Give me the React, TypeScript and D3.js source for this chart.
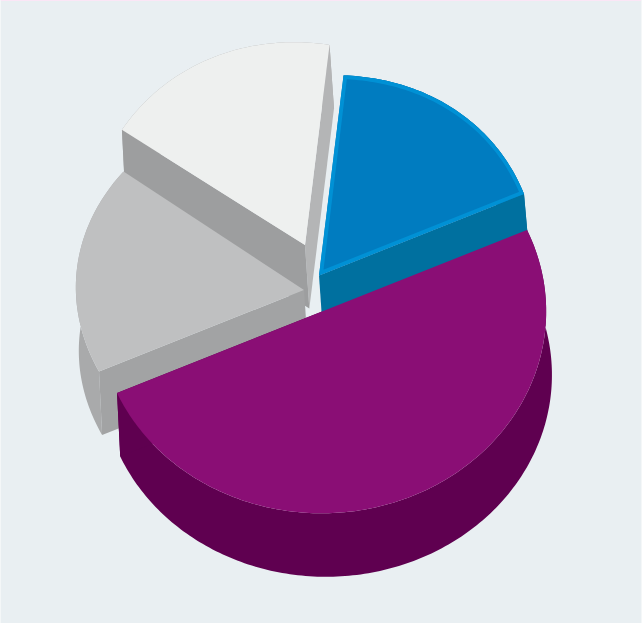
import React from "react";
import * as d3 from "d3";

const categories = ["Blue", "White", "Grey", "Purple"];
const values = [16.67, 16.67, 16.67, 50];
const topColors = ["#007cc0", "#eef0ef", "#bfc0c1", "#8a0e75"];
const wallColors = ["#00709f", "#9d9e9f", "#a2a3a4", "#5f0050"];
const rimColors = ["#00709f", "#a9aaab", "#a9aaab", "#5f0050"];

const W = 642;
const H = 623;
const A = { x: 205, y: -81.5 };
const B = { x: 90, y: 184 };
const depth = 63.5;
const centers = [
  { x: 319, y: 275.5 },
  { x: 305, y: 245 },
  { x: 304, y: 290 },
  { x: 322, y: 311.5 },
];
const bulges = [0.022, 0.02, 0.02, 0.003];
const endStretch = [0, 0.02, 0, 0];

type P = [number, number];
const project = (c: { x: number; y: number }, t: number, r = 1): P => [
  c.x + r * (Math.cos(t) * A.x + Math.sin(t) * B.x),
  c.y + r * (Math.cos(t) * A.y + Math.sin(t) * B.y),
];
const drop = (p: P): P => [p[0] + 2.5 + 0.006 * p[0], p[1] + depth];
const line = d3.line<P>().x((d) => d[0]).y((d) => d[1]);

export default function App() {
  const arcs = d3.pie<number>().sort(null)(values);
  const shapes = arcs.map((a, i) => {
    const c = centers[i];
    const t0 = -a.startAngle;
    const t1 = -a.endAngle - endStretch[i];
    const n = Math.max(2, Math.round(((a.endAngle - a.startAngle) * 180) / Math.PI));
    const rim = d3.range(n + 1).map((k) => {
      const u = k / n;
      return project(c, t0 + (t1 - t0) * u, 1 + bulges[i] * Math.sin(Math.PI * u));
    });
    const tip: P = [c.x, c.y];
    const first = rim[0];
    const last = rim[rim.length - 1];
    return {
      top: line([tip, ...rim])! + "Z",
      rimWall: line([...rim, ...rim.slice().reverse().map(drop)])! + "Z",
      wallStart: line([tip, first, drop(first), drop(tip)])! + "Z",
      wallEnd: line([tip, last, drop(last), drop(tip)])! + "Z",
    };
  });
  const order = [1, 2, 0, 3];
  return (
    <svg
      width={W}
      height={H}
      viewBox={`0 0 ${W} ${H}`}
      style={{ position: "absolute", left: 0, top: 0, display: "block" }}
    >
      <defs>
        <clipPath id="blue-clip">
          <path d={shapes[0].top} />
        </clipPath>
      </defs>
      <rect width={W} height={H} fill="#e9eff2" />
      <rect width={W} height={1} fill="#fbe6f6" />
      <rect width={1} height={H} fill="#f4f7f8" />
      <rect x={W - 1} width={1} height={H} fill="#f4f7f8" />
      {order.map((i) => (
        <g key={categories[i]}>
          <path d={shapes[i].rimWall} fill={rimColors[i]} />
          {i === 1 && <path d={shapes[i].wallStart} fill="#b4b5b6" />}
          {i === 1 && <path d={shapes[i].wallEnd} fill={wallColors[i]} />}
          {i === 2 && <path d={shapes[i].wallEnd} fill={wallColors[i]} />}
          {i === 0 && <path d={shapes[i].wallStart} fill={wallColors[i]} />}
          {i === 3 && <path d={shapes[i].wallStart} fill={wallColors[i]} />}
          <path d={shapes[i].top} fill={topColors[i]} />
          {i === 0 && (
            <path
              d={shapes[i].top}
              fill="none"
              stroke="#0091d5"
              strokeWidth={7.5}
              clipPath="url(#blue-clip)"
            />
          )}
        </g>
      ))}
    </svg>
  );
}
